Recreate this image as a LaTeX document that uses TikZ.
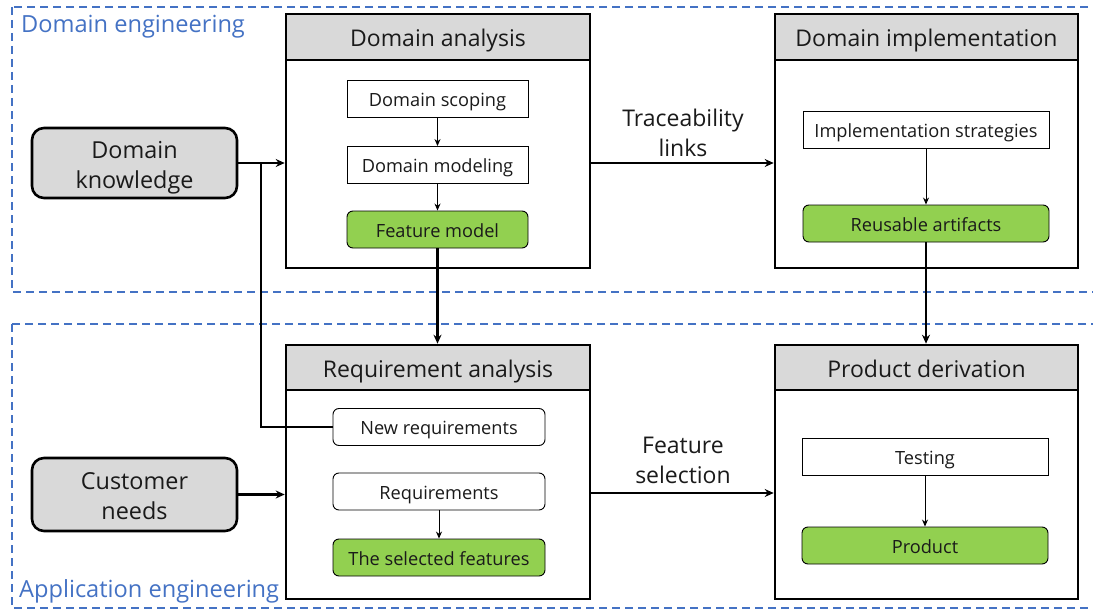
\documentclass[tikz,border=0pt]{standalone}
\usepackage{fontspec}
\setmainfont{Open Sans}
\usetikzlibrary{arrows.meta}
\definecolor{regionblue}{HTML}{4472C4}
\definecolor{headgray}{HTML}{D9D9D9}
\definecolor{leafgreen}{HTML}{92D050}
\definecolor{ink}{HTML}{1A1A1A}
\tikzset{
  region/.style={draw=regionblue, line width=2pt, dash pattern=on 8pt off 5pt},
  regionlabel/.style={text=regionblue, anchor=base west, inner sep=0pt, font=\fontsize{23.6}{27}\selectfont},
  source/.style={draw=black, fill=headgray, line width=2.6pt, rounded corners=12pt,
    minimum width=205pt, text width=190pt, align=center, text height=17pt, text depth=27pt, text=ink,
    font=\fontsize{23.4}{30}\selectfont},
  stage/.style={draw=black, line width=2.6pt, minimum width=304pt, minimum height=254pt, inner sep=0pt},
  stagehead/.style={draw=black, fill=headgray, line width=2.6pt, minimum width=304pt, minimum height=46pt,
    inner sep=0pt, text height=20.7pt, text depth=0.9pt, text=ink, font=\fontsize{23}{27}\selectfont},
  task/.style={draw=black, fill=white, line width=0.9pt, minimum height=37pt, inner sep=0pt,
    text height=16.3pt, text depth=0.7pt, text=ink, font=\fontsize{18.2}{21}\selectfont},
  rtask/.style={task, rounded corners=6pt},
  result/.style={task, fill=leafgreen, rounded corners=6pt},
  flow/.style={line width=2.4pt, -{Stealth[length=9pt,width=8pt]}},
  innerflow/.style={line width=0.9pt, -{Stealth[length=7pt,width=6pt]}},
  edgelabel/.style={align=center, text=ink, font=\fontsize{23}{30}\selectfont}
}
\begin{document}
\begin{tikzpicture}[x=1pt,y=-1pt]
\useasboundingbox (0,0) rectangle (1093,610);

% engineering regions
\draw[region] (12,7) rectangle (1110,292);
\draw[region] (12,324) rectangle (1110,608);
\node[regionlabel] (delabel) at (21,32.5) {Domain engineering};
\node[regionlabel] (aelabel) at (19,597) {Application engineering};

% inputs
\node[source, minimum height=70pt] (dk) at (134.5,163) {Domain\\knowledge};
\node[source, minimum height=73pt] (cn) at (134.5,494.5) {Customer\\needs};

% domain analysis
\node[stage] (da) at (438,141) {};
\node[stagehead] (dah) at (438,37) {Domain analysis};
\node[task, minimum width=181pt] (ds) at (437.5,98.5) {Domain scoping};
\node[task, minimum width=181pt] (dm) at (437.5,165) {Domain modeling};
\node[result, minimum width=181pt] (fm) at (437.5,229.5) {Feature model};

% domain implementation
\node[stage, minimum width=303pt] (di) at (926.5,141) {};
\node[stagehead, minimum width=303pt] (dih) at (926.5,37) {Domain implementation};
\node[task, minimum width=246pt] (is) at (926,130) {Implementation strategies};
\node[result, minimum width=246pt] (ua) at (926,223.5) {Reusable artifacts};

% requirement analysis
\node[stage] (ra) at (438,472) {};
\node[stagehead, minimum height=45pt] (rah) at (438,367.5) {Requirement analysis};
\node[rtask, minimum width=212pt] (nr) at (439,427) {New requirements};
\node[rtask, minimum width=212pt] (rq) at (439,491.5) {Requirements};
\node[result, minimum width=212pt] (sf) at (439,557.5) {The selected features};

% product derivation
\node[stage, minimum width=303pt] (pd) at (926.5,472) {};
\node[stagehead, minimum width=303pt, minimum height=45pt] (pdh) at (926.5,367.5) {Product derivation};
\node[task, minimum width=246pt] (ts) at (925,456.5) {Testing};
\node[result, minimum width=246pt] (pr) at (925,545.5) {Product};

% steps inside the stages
\draw[innerflow] (ds.south) -- (dm.north);
\draw[innerflow] (dm.south) -- (fm.north);
\draw[innerflow] (is.south) -- (ua.north);
\draw[innerflow] (rq.south) -- (sf.north);
\draw[innerflow] (ts.south) -- (pr.north);

% flows between stages
\coordinate (split) at (261,163);
\draw[flow] (dk.east) -- (dk.east -| da.west);
\draw[line width=2.4pt] (nr.west) -| (split);
\draw[flow] (cn.east) -- (cn.east -| ra.west);
\draw[flow] (da.east |- dk.east) -- (di.west |- dk.east);
\draw[flow] (ra.east |- 0,493) -- (pd.west |- 0,493);
\draw[flow] (fm.south) -- (fm.south |- ra.north);
\draw[flow] (ua.south) -- (ua.south |- pd.north);

\node[edgelabel] (tl) at (683,133) {Traceability\\links};
\node[edgelabel] (fsl) at (683,460) {Feature\\selection};
\end{tikzpicture}
\end{document}
